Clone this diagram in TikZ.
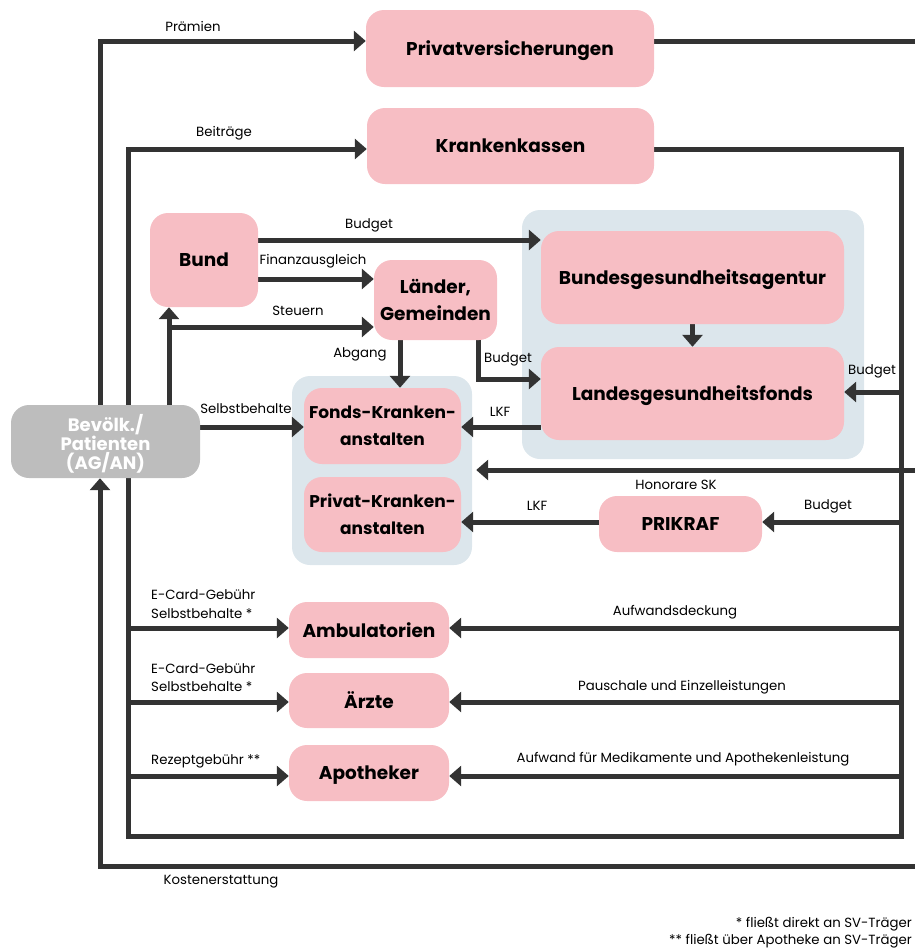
\documentclass[tikz,border=0pt]{standalone}
\usepackage{fontspec}
\setmainfont{Poppins}
\usetikzlibrary{arrows.meta}
\definecolor{pinkbox}{HTML}{F7BEC4}
\definecolor{bluegrp}{HTML}{DCE6EC}
\definecolor{graybox}{HTML}{BDBDBD}
\definecolor{linec}{HTML}{333333}
\pgfdeclarelayer{grp}
\pgfdeclarelayer{con}
\pgfsetlayers{grp,con,main}
\begin{document}
\begin{tikzpicture}[x=1pt,y=-1pt,
  box/.style={fill=pinkbox, rounded corners=18pt, inner sep=0pt, align=center, text depth=0pt,
    font=\fontsize{18.5}{27}\selectfont\bfseries},
  kbox/.style={box, font=\fontsize{17}{27}\selectfont\bfseries},
  grpbox/.style={fill=bluegrp, rounded corners=18pt, inner sep=0pt},
  flow/.style={draw=linec, line width=5pt, -{Triangle[length=12pt,width=20pt]}},
  wire/.style={draw=linec, line width=5pt},
  lbl/.style={font=\fontsize{13.3}{18.5}\selectfont, inner sep=0pt, text=black, align=left},
]
\useasboundingbox (0,0) rectangle (915,948);

% boxes
\node[box, minimum width=288pt, minimum height=77pt] (pv) at (510,48.5) {Privatversicherungen};
\node[box, minimum width=287pt, minimum height=76pt] (kk) at (510.5,146) {Krankenkassen};
\node[box, minimum width=108pt, minimum height=94pt] (bund) at (204,260) {Bund};
\node[box, minimum width=123pt, minimum height=80pt] (laender) at (435.5,300) {Länder,\\Gemeinden};
\node[box, minimum width=303pt, minimum height=93pt] (bga) at (692.5,277.5) {Bundesgesundheitsagentur};
\node[box, minimum width=303pt, minimum height=93pt] (lgf) at (692.5,393.5) {Landesgesundheitsfonds};
\node[kbox, minimum width=157pt, minimum height=76pt] (fka) at (382.5,426) {Fonds-Kranken-\\anstalten};
\node[kbox, minimum width=157pt, minimum height=75pt] (pka) at (382.5,514.5) {Privat-Kranken-\\anstalten};
\node[box, fill=graybox, text=white, minimum width=189pt, minimum height=73pt,
  font=\fontsize{18}{19}\selectfont\bfseries] (bev) at (105.5,441.5) {Bevölk./\\Patienten\\(AG/AN)};
\node[box, minimum width=163pt, minimum height=56pt] (prikraf) at (680.5,524) {PRIKRAF};
\node[box, minimum width=160pt, minimum height=56pt] (amb) at (369,630) {Ambulatorien};
\node[box, minimum width=160pt, minimum height=55pt] (aerzte) at (369,700.5) {Ärzte};
\node[box, minimum width=160pt, minimum height=56pt] (apo) at (369,773) {Apotheker};

% groups
\begin{pgfonlayer}{grp}
\node[grpbox, minimum width=342pt, minimum height=249pt] (grp1) at (693,334.5) {};
\node[grpbox, minimum width=180pt, minimum height=189pt] (grp2) at (382,470.5) {};
\end{pgfonlayer}

% coordinates
\coordinate (cP) at (100,41);
\coordinate (eP) at (915,41);
\coordinate (cB) at (128,149);
\coordinate (cBR) at (901,149);
\coordinate (cBRb) at (901,836);
\coordinate (cBLb) at (128,836);
\coordinate (cO) at (915,866);
\coordinate (cOL) at (100,866);
\coordinate (cS) at (169,327);
\coordinate (yBud) at (0,240);
\coordinate (yFin) at (0,279);
\coordinate (xAb) at (400,0);
\coordinate (cBud) at (478,379);
\coordinate (yLKF) at (0,427);
\coordinate (rLgf) at (901,392);
\coordinate (cH) at (915,470);
\coordinate (rPk) at (901,522);
\coordinate (lA) at (128,628);
\coordinate (rA) at (901,628);
\coordinate (lZ) at (128,702);
\coordinate (rZ) at (901,702);
\coordinate (lX) at (128,776);
\coordinate (rX) at (901,776);

\begin{pgfonlayer}{con}
\draw[flow] (bev.north -| cP) -- (cP) -- (pv.west |- cP);
\draw[wire] (pv.east |- cP) -- (eP);
\draw[flow] (kk.east |- cB) -- (cBR) -- (cBRb) -- (cBLb) -- (cB) -- (kk.west |- cB);
\draw[flow] (cO) -- (cOL) -- (bev.south -| cOL);
\draw[flow] (bev.north -| cS) -- (bund.south -| cS);
\draw[flow] (cS) -- (laender.west |- cS);
\draw[flow] (bund.east |- yBud) -- (bga.west |- yBud);
\draw[flow] (bund.east |- yFin) -- (laender.west |- yFin);
\draw[flow] (laender.south -| xAb) -- (fka.north -| xAb);
\draw[flow] (laender.south -| cBud) -- (cBud) -- (lgf.west |- cBud);
\draw[flow] (bga.south) -- (lgf.north);
\draw[flow] (lgf.west |- yLKF) -- (fka.east |- yLKF);
\draw[flow] (bev.east |- yLKF) -- (fka.west |- yLKF);
\draw[flow] (rLgf) -- (lgf.east |- rLgf);
\draw[flow, shorten >=4pt] (cH) -- (grp2.east |- cH);
\draw[flow] (rPk) -- (prikraf.east |- rPk);
\draw[flow] (prikraf.west |- rPk) -- (pka.east |- rPk);
\draw[flow] (lA) -- (amb.west |- lA);
\draw[flow] (rA) -- (amb.east |- rA);
\draw[flow] (lZ) -- (aerzte.west |- lZ);
\draw[flow] (rZ) -- (aerzte.east |- rZ);
\draw[flow] (lX) -- (apo.west |- lX);
\draw[flow] (rX) -- (apo.east |- rX);
\end{pgfonlayer}

% labels
\node[lbl] (t1) at (193,26) {Prämien};
\node[lbl] (t2) at (224,133) {Beiträge};
\node[lbl] (t3) at (369,225) {Budget};
\node[lbl] (t4) at (313,261) {Finanzausgleich};
\node[lbl] (t5) at (298,311) {Steuern};
\node[lbl] (t6) at (360,354) {Abgang};
\node[lbl] (t7) at (508,359) {Budget};
\node[lbl] (t8) at (246,409) {Selbstbehalte};
\node[lbl] (t9) at (500,412) {LKF};
\node[lbl] (t10) at (872,371) {Budget};
\node[lbl] (t11) at (676,485) {Honorare SK};
\node[lbl] (t12) at (537,506) {LKF};
\node[lbl] (t13) at (828,506) {Budget};
\node[lbl, anchor=west] (t14) at (151,604) {E-Card-Gebühr\\Selbstbehalte *};
\node[lbl] (t15) at (675,612) {Aufwandsdeckung};
\node[lbl, anchor=west] (t16) at (151,677.5) {E-Card-Gebühr\\Selbstbehalte *};
\node[lbl] (t17) at (682,687) {Pauschale und Einzelleistungen};
\node[lbl, anchor=west] (t18) at (151,761) {Rezeptgebühr **};
\node[lbl] (t19) at (683,759) {Aufwand für Medikamente und Apothekenleistung};
\node[lbl] (t20) at (221,882) {Kostenerstattung};
\node[lbl, anchor=east] (t21) at (912,924) {* fließt direkt an SV-Träger};
\node[lbl, anchor=east] (t22) at (912,941) {** fließt über Apotheke an SV-Träger};
\end{tikzpicture}
\end{document}
